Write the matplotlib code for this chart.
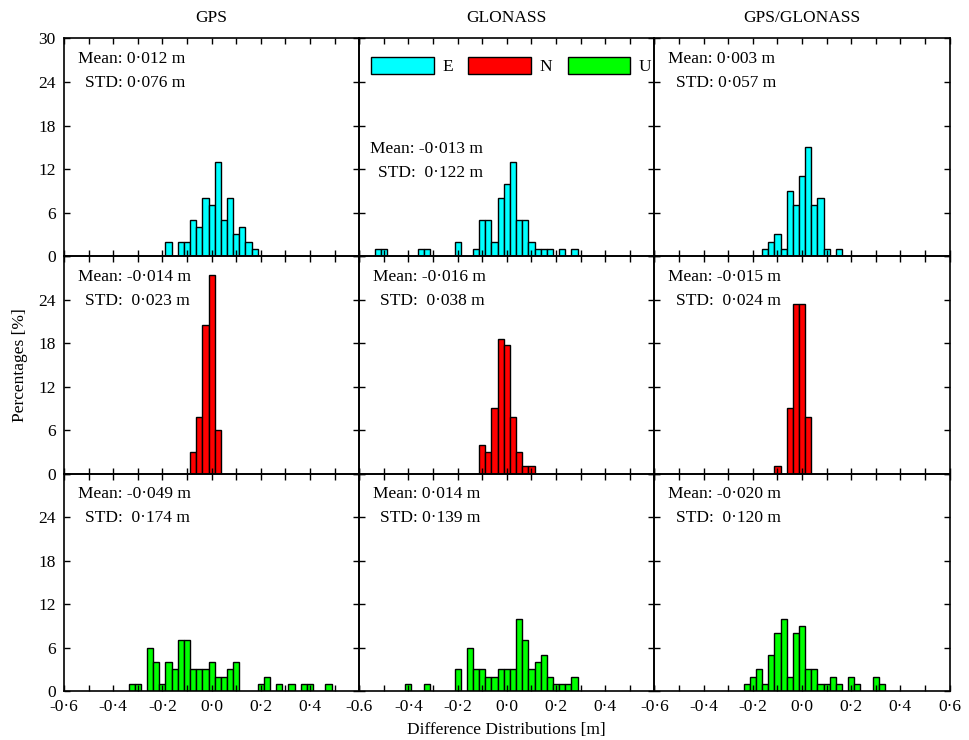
import matplotlib
matplotlib.use("Agg")
import matplotlib.pyplot as plt
from matplotlib.patches import Patch
from matplotlib.ticker import MultipleLocator

plt.rcParams['font.family'] = ['Liberation Serif', 'DejaVu Serif']

# ---------------- data (bin centres [m], percentages [%]) ----------------
columns = ["GPS", "GLONASS", "GPS/GLONASS"]
components = ["E", "N", "U"]
colors = ["#00FFFF", "#FF0000", "#00FF00"]
bin_width = 0.025

gps_e_x = [-0.175, -0.125, -0.1, -0.075, -0.05, -0.025, 0, 0.025, 0.05, 0.075, 0.1, 0.125, 0.15, 0.175]
gps_e_y = [2, 2, 2, 5, 4, 8, 7, 13, 5, 8, 3, 4, 2, 1]
glo_e_x = [-0.525, -0.5, -0.35, -0.325, -0.2, -0.125, -0.1, -0.075, -0.05, -0.025, 0, 0.025, 0.05,
           0.075, 0.1, 0.125, 0.15, 0.175, 0.225, 0.275]
glo_e_y = [1, 1, 1, 1, 2, 1, 5, 5, 2, 8, 10, 13, 5, 5, 2, 1, 1, 1, 1, 1]
gg_e_x = [-0.15, -0.125, -0.1, -0.075, -0.05, -0.025, 0, 0.025, 0.05, 0.075, 0.1, 0.15]
gg_e_y = [1, 2, 3, 1, 9, 7, 11, 15, 7, 8, 1, 1]

gps_n_x = [-0.075, -0.05, -0.025, 0, 0.025]
gps_n_y = [3, 7.8, 20.5, 27.4, 6]
glo_n_x = [-0.1, -0.075, -0.05, -0.025, 0, 0.025, 0.05, 0.075, 0.1]
glo_n_y = [4, 3, 9, 18.6, 17.7, 7.8, 3, 1, 1]
gg_n_x = [-0.1, -0.05, -0.025, 0, 0.025]
gg_n_y = [1, 9, 23.4, 23.4, 7.8]

gps_u_x = [-0.325, -0.3, -0.25, -0.225, -0.2, -0.175, -0.15, -0.125, -0.1, -0.075, -0.05, -0.025, 0,
           0.025, 0.05, 0.075, 0.1, 0.2, 0.225, 0.275, 0.325, 0.375, 0.4, 0.475]
gps_u_y = [1, 1, 6, 4, 1, 4, 3, 7, 7, 3, 3, 3, 4, 2, 2, 3, 4, 1, 2, 1, 1, 1, 1, 1]
glo_u_x = [-0.4, -0.325, -0.2, -0.15, -0.125, -0.1, -0.075, -0.05, -0.025, 0, 0.025, 0.05, 0.075,
           0.1, 0.125, 0.15, 0.175, 0.2, 0.225, 0.25, 0.275]
glo_u_y = [1, 1, 3, 6, 3, 3, 2, 2, 3, 3, 3, 10, 7, 3, 4, 5, 2, 1, 1, 1, 2]
gg_u_x = [-0.225, -0.2, -0.175, -0.15, -0.125, -0.1, -0.075, -0.05, -0.025, 0, 0.025, 0.05, 0.075,
          0.1, 0.125, 0.15, 0.2, 0.225, 0.3, 0.325]
gg_u_y = [1, 2, 3, 1, 5, 8, 10, 2, 8, 9, 3, 3, 1, 1, 2, 1, 2, 1, 2, 1]

mean_texts = [["Mean: 0·012 m", "Mean: -0·013 m", "Mean: 0·003 m"],
              ["Mean: -0·014 m", "Mean: -0·016 m", "Mean: -0·015 m"],
              ["Mean: -0·049 m", "Mean: 0·014 m", "Mean: -0·020 m"]]
std_texts = [["STD: 0·076 m", "STD:  0·122 m", "STD: 0·057 m"],
             ["STD:  0·023 m", "STD:  0·038 m", "STD:  0·024 m"],
             ["STD:  0·174 m", "STD: 0·139 m", "STD:  0·120 m"]]

x_tick_values = [-0.6, -0.4, -0.2, 0.0, 0.2, 0.4, 0.6]
x_tick_labels = [["-0·6", "-0·4", "-0·2", "0·0", "0·2", "0·4", ""],
                 ["-0.6", "-0·4", "-0·2", "0·0", "0·2", "0·4", ""],
                 ["-0·6", "-0·4", "-0·2", "0·0", "0·2", "0·4", "0·6"]]
y_tick_values = [0, 6, 12, 18, 24, 30]

panels = [[(gps_e_x, gps_e_y), (glo_e_x, glo_e_y), (gg_e_x, gg_e_y)],
          [(gps_n_x, gps_n_y), (glo_n_x, glo_n_y), (gg_n_x, gg_n_y)],
          [(gps_u_x, gps_u_y), (glo_u_x, glo_u_y), (gg_u_x, gg_u_y)]]

# ---------------- figure ----------------
fig, axes = plt.subplots(3, 3, figsize=(9.7, 7.4), dpi=100)
fig.subplots_adjust(left=0.066, right=0.979, top=0.948, bottom=0.066, hspace=0, wspace=0)

for r in range(3):
    for c in range(3):
        ax = axes[r, c]
        ax.patch.set_alpha(0)
        xs, ys = panels[r][c]
        ax.bar(xs, ys, width=bin_width, color=colors[r], edgecolor="black", linewidth=1.0)
        ax.set_xlim(-0.6, 0.6)
        ax.set_ylim(0, 30)
        ax.set_xticks(x_tick_values)
        ax.xaxis.set_minor_locator(MultipleLocator(0.1))
        ax.set_yticks(y_tick_values)
        ax.tick_params(which="both", direction="in", top=True, right=True, length=4,
                       width=1.0, labelsize=12.5, pad=6)
        for s in ax.spines.values():
            s.set_linewidth(1.2)
        if r == 2:
            ax.set_xticklabels(x_tick_labels[c])
        else:
            ax.set_xticklabels([])
        if c == 0:
            ylabels = [str(v) for v in y_tick_values]
            if r > 0:
                ylabels[-1] = ""
            ax.set_yticklabels(ylabels)
        else:
            ax.set_yticklabels([])
        if (r, c) == (0, 1):
            y1, y2 = 0.49, 0.38
            x1, x2 = 0.037, 0.062
        else:
            y1, y2 = 0.905, 0.795
            x1, x2 = 0.047, 0.072
        ax.text(x1, y1, mean_texts[r][c], transform=ax.transAxes,
                ha="left", va="center", fontsize=12.5)
        ax.text(x2, y2, std_texts[r][c], transform=ax.transAxes,
                ha="left", va="center", fontsize=12.5)
        if r == 0:
            ax.set_title(columns[c], fontsize=12.5, pad=12)

handles = [Patch(facecolor=colors[i], edgecolor="black", linewidth=1.0, label=components[i])
           for i in range(3)]
leg = axes[0, 1].legend(handles=handles, loc="upper left", bbox_to_anchor=(0.04, 0.915), ncol=3,
                        frameon=False, fontsize=12.5, handlelength=3.6, handleheight=1.1,
                        handletextpad=0.5, columnspacing=0.9, borderaxespad=0, borderpad=0)
leg.set_zorder(10)

fig.text(0.012, 0.507, "Percentages [%]", rotation=90, ha="left", va="center", fontsize=12.5)
fig.text(0.522, 0.0135, "Difference Distributions [m]", ha="center", va="center", fontsize=12.5)

fig.savefig("out.png", dpi=100)
